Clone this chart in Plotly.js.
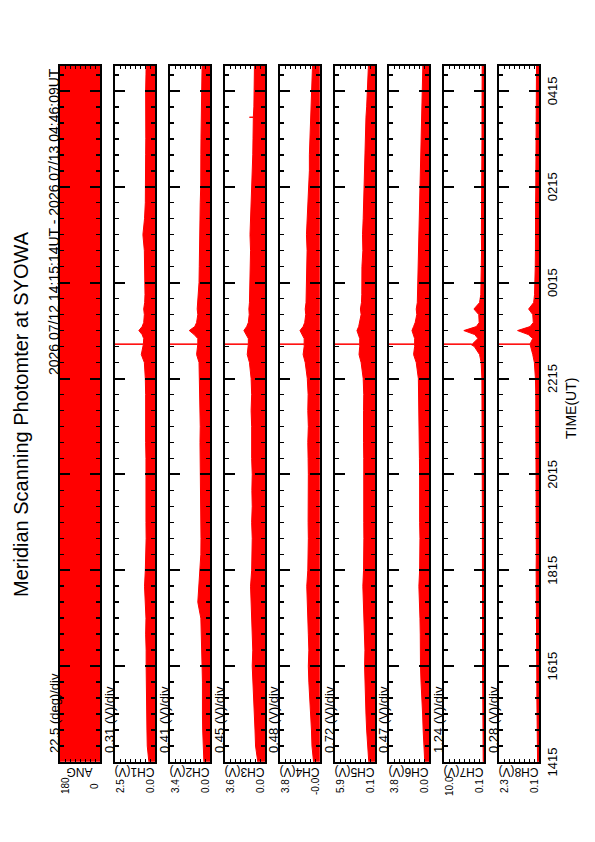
<!DOCTYPE html>
<html><head><meta charset="utf-8">
<script src="https://cdn.plot.ly/plotly-3.0.1.min.js"></script>
<style>
html,body{margin:0;padding:0;width:595px;height:842px;overflow:hidden;background:#fff;}
#chart{position:absolute;left:0;top:0;width:842px;height:595px;transform-origin:0 0;transform:translateY(842px) rotate(-90deg);}
</style></head><body><div id="chart"></div>
<script>
// ---- data ----
const timeUT = ['14:15:14','14:35','14:55','15:15','15:35','15:55','16:15','16:35','16:55','17:15','17:35','17:55','18:15','18:35','18:55','19:15','19:35','19:55','20:15','20:35','20:55','21:15','21:35','21:55','22:15','22:35','22:45','22:55','22:57:50','22:58','22:58:10','23:05','23:10','23:15','23:20','23:25','23:35','23:42','23:50','00:00','00:15','00:35','00:55','01:15','01:35','01:55','02:15','02:35','02:55','03:15','03:35','03:41:50','03:42','03:42:10','03:55','04:15','04:35','04:46:09'];
const angTime = ['14:15:14','04:46:09'];
const angDeg  = [180, 180];
const ch1 = [0.38,0.48,0.5,0.52,0.5,0.52,0.55,0.55,0.58,0.56,0.62,0.65,0.6,0.56,0.55,0.56,0.55,0.57,0.55,0.56,0.58,0.57,0.6,0.58,0.6,0.66,0.85,0.72,0.72,99,0.72,0.7,0.8,1.0,0.8,0.7,0.66,0.7,0.64,0.62,0.62,0.64,0.66,0.75,0.65,0.6,0.58,0.6,0.58,0.57,0.58,0.58,0.58,0.58,0.57,0.58,0.56,0.55];
const ch2 = [0.5,0.58,0.6,0.62,0.6,0.62,0.65,0.7,0.72,0.75,1.0,0.9,0.8,0.75,0.74,0.76,0.75,0.78,0.76,0.8,0.82,0.8,0.82,0.8,0.84,0.9,1.1,1.0,1.0,99,1.0,1.0,1.3,1.7,1.25,1.1,1.0,1.05,1.0,0.98,0.9,0.88,0.86,0.9,0.85,0.8,0.76,0.78,0.75,0.74,0.72,0.72,0.72,0.72,0.7,0.68,0.66,0.65];
const ch3 = [0.65,0.85,0.9,0.95,1.05,1.1,1.15,1.1,1.15,1.2,1.25,1.3,1.2,1.15,1.15,1.2,1.15,1.18,1.15,1.2,1.18,1.2,1.25,1.2,1.25,1.4,1.6,1.5,1.5,99,1.5,1.5,1.7,1.9,1.65,1.5,1.42,1.45,1.4,1.38,1.35,1.35,1.3,1.35,1.3,1.25,1.15,1.12,1.1,1.08,1.05,1.05,1.4,1.05,1.0,1.0,0.98,0.95];
const ch4 = [0.6,0.75,0.8,0.9,1.0,1.05,1.1,1.05,1.1,1.15,1.2,1.25,1.15,1.1,1.1,1.12,1.1,1.15,1.1,1.12,1.15,1.1,1.15,1.12,1.2,1.4,1.6,1.5,1.5,99,1.5,1.5,1.7,1.9,1.6,1.45,1.35,1.4,1.32,1.3,1.28,1.3,1.22,1.28,1.2,1.15,1.05,1.0,1.0,0.95,0.92,0.9,0.9,0.9,0.85,0.78,0.72,0.7];
const ch5 = [1.0,1.2,1.3,1.4,1.5,1.6,1.6,1.55,1.65,1.7,1.8,1.85,1.75,1.7,1.7,1.72,1.7,1.75,1.7,1.72,1.75,1.7,1.75,1.72,1.8,2.1,2.4,2.3,2.3,99,2.3,2.3,2.5,2.7,2.45,2.3,2.1,2.2,2.05,2.0,2.0,1.98,1.85,1.9,1.8,1.75,1.6,1.55,1.5,1.45,1.4,1.4,1.4,1.4,1.3,1.2,1.1,1.05];
const ch6 = [0.4,0.5,0.55,0.6,0.7,0.75,0.8,0.78,0.82,0.85,0.92,0.95,0.88,0.85,0.85,0.88,0.86,0.9,0.88,0.9,0.92,0.9,0.94,0.92,1.0,1.2,1.45,1.35,1.35,99,1.35,1.35,1.5,1.6,1.45,1.3,1.15,1.2,1.1,1.08,1.05,1.05,0.98,1.0,0.95,0.9,0.82,0.8,0.78,0.75,0.72,0.7,0.7,0.7,0.66,0.62,0.6,0.58];
const ch7 = [0.3,0.35,0.4,0.4,0.42,0.45,0.45,0.45,0.48,0.5,0.55,0.55,0.5,0.5,0.5,0.5,0.5,0.52,0.5,0.52,0.55,0.55,0.58,0.58,0.62,0.8,1.2,2.5,3.4,99,3.0,1.6,2.4,5.1,2.0,1.3,1.4,2.6,1.2,0.9,0.8,0.75,0.7,0.75,0.7,0.68,0.65,0.65,0.62,0.6,0.6,0.6,0.6,0.6,0.58,0.56,0.55,0.55];
const ch8 = [0.18,0.2,0.2,0.21,0.22,0.22,0.23,0.23,0.24,0.25,0.26,0.27,0.26,0.25,0.25,0.25,0.25,0.26,0.25,0.26,0.27,0.27,0.28,0.28,0.3,0.36,0.45,0.55,0.6,99,0.6,0.45,0.7,1.3,0.6,0.42,0.45,0.68,0.4,0.35,0.32,0.31,0.3,0.31,0.3,0.29,0.28,0.28,0.27,0.27,0.26,0.26,0.26,0.26,0.25,0.25,0.24,0.24];
const channelNames = ['ANG','CH1(V)','CH2(V)','CH3(V)','CH4(V)','CH5(V)','CH6(V)','CH7(V)','CH8(V)'];
const divValues = [22.5,0.31,0.41,0.45,0.48,0.72,0.47,1.24,0.28];
const divLabels = ['22.5 (deg)/div','0.31 (V)/div','0.41 (V)/div','0.45 (V)/div','0.48 (V)/div','0.72 (V)/div','0.47 (V)/div','1.24 (V)/div','0.28 (V)/div'];
const axisMin = [0,0,0,0,-0.02,0.1,0,0.1,0.1];
const topLabels = ['180','2.5','3.4','3.6','3.8','5.9','3.8','10.0','2.3'];
const bottomLabels = ['0','0.0','0.0','0.0','-0.0','0.1','0.0','0.1','0.1'];
const tickTimes = ['14:15','16:15','18:15','20:15','22:15','00:15','02:15','04:15'];
const tickText = ['1415','1615','1815','2015','2215','0015','0215','0415'];
const titleText = 'Meridian Scanning Photomter at SYOWA';
const headerText = '2026 07/12 14:15:14UT - 2026 07/13 04:46:09UT';
const timeAxisTitle = 'TIME(UT)';

// ---- helpers ----
function toDate(s){
  const h = parseInt(s.slice(0,2),10);
  const day = h >= 14 ? '2026-07-12' : '2026-07-13';
  return day + ' ' + (s.length === 5 ? s + ':00' : s);
}
const dates = timeUT.map(toDate);
const series = [null, ch1, ch2, ch3, ch4, ch5, ch6, ch7, ch8];

const W = 842, H = 595;
const X0 = 80, X1 = 776;
const panelTop = [60,115,170,225,280,335,389,444,499];
const panelH = 40;
const FONT = 'Liberation Sans, Arial, Helvetica, sans-serif';
const RED = '#ff0000';

const traces = [];
const layout = {
  width: W, height: H,
  margin: {l:0, r:0, t:0, b:0},
  paper_bgcolor: '#fff', plot_bgcolor: '#fff',
  showlegend: false,
  font: {family: FONT, color: '#000'},
  annotations: []
};

for (let i = 0; i < 9; i++) {
  const sfx = i === 0 ? '' : String(i + 1);
  const top = panelTop[i], bot = top + panelH;
  const lo = axisMin[i], hi = axisMin[i] + 8 * divValues[i];
  layout['xaxis' + sfx] = {
    domain: [X0 / W, X1 / W], anchor: 'y' + sfx, type: 'date',
    range: ['2026-07-12 14:15:00', '2026-07-13 04:46:09'],
    tickmode: 'array', tickvals: tickTimes.map(toDate), ticktext: tickText,
    showticklabels: i === 8, tickfont: {size: 13, family: FONT},
    ticks: 'inside', ticklen: 10, tickwidth: 2, tickcolor: '#000',
    minor: {tickmode: 'linear', tick0: '2026-07-12 14:15:00', dtick: 1200000, ticks: 'inside', ticklen: 4, tickwidth: 1.5, tickcolor: '#000', showgrid: false},
    showline: true, linewidth: 2, linecolor: '#000', mirror: 'allticks',
    showgrid: false, zeroline: false, fixedrange: true
  };
  layout['yaxis' + sfx] = {
    domain: [1 - bot / H, 1 - top / H], anchor: 'x' + sfx,
    range: [lo, hi], tickmode: 'linear', tick0: lo, dtick: divValues[i],
    ticks: 'inside', ticklen: 3, tickwidth: 1, tickcolor: '#000',
    showticklabels: false, showline: true, linewidth: 2, linecolor: '#000', mirror: 'allticks',
    showgrid: false, zeroline: false, fixedrange: true
  };
  if (i === 0) {
    traces.push({x: angTime.map(toDate), y: angDeg, type: 'scatter', mode: 'lines',
      fill: 'tozeroy', fillcolor: RED, line: {color: RED, width: 1},
      xaxis: 'x', yaxis: 'y', hoverinfo: 'skip'});
  } else {
    traces.push({x: dates, y: series[i], type: 'scatter', mode: 'lines',
      fill: 'tozeroy', fillcolor: RED, line: {color: RED, width: 1},
      xaxis: 'x' + sfx, yaxis: 'y' + sfx, hoverinfo: 'skip'});
  }
  // per-division label above panel
  layout.annotations.push({xref:'paper', yref:'paper', x: 87 / W, y: 1 - (top - 6) / H,
    xanchor:'left', yanchor:'middle', text: divLabels[i], showarrow:false, font:{size:13, family: FONT}});
  // axis name
  layout.annotations.push({xref:'paper', yref:'paper', x: 70.5 / W, y: 1 - (top + panelH / 2) / H,
    xanchor:'center', yanchor:'middle', textangle: -90, text: channelNames[i], showarrow:false, font:{size:12, family: FONT}});
  // top and bottom scale labels
  layout.annotations.push({xref:'paper', yref:'paper', x: 56 / W, y: 1 - (top + 5.5) / H,
    xanchor:'center', yanchor:'middle', text: topLabels[i], showarrow:false, font:{size:10, family: FONT}});
  layout.annotations.push({xref:'paper', yref:'paper', x: 56 / W, y: 1 - (bot - 5) / H,
    xanchor:'center', yanchor:'middle', text: bottomLabels[i], showarrow:false, font:{size:10, family: FONT}});
}

layout.annotations.push({xref:'paper', yref:'paper', x: (X0 + X1) / 2 / W, y: 1 - 21 / H,
  xanchor:'center', yanchor:'middle', text: titleText, showarrow:false, font:{size:20, family: FONT}});
layout.annotations.push({xref:'paper', yref:'paper', x: X1 / W, y: 1 - 54 / H,
  xanchor:'right', yanchor:'middle', text: headerText, showarrow:false, font:{size:14, family: FONT}});
layout.annotations.push({xref:'paper', yref:'paper', x: 433 / W, y: 1 - 571 / H,
  xanchor:'center', yanchor:'middle', text: timeAxisTitle, showarrow:false, font:{size:14, family: FONT}});

Plotly.newPlot('chart', traces, layout, {staticPlot: true, displayModeBar: false});
</script></body></html>
